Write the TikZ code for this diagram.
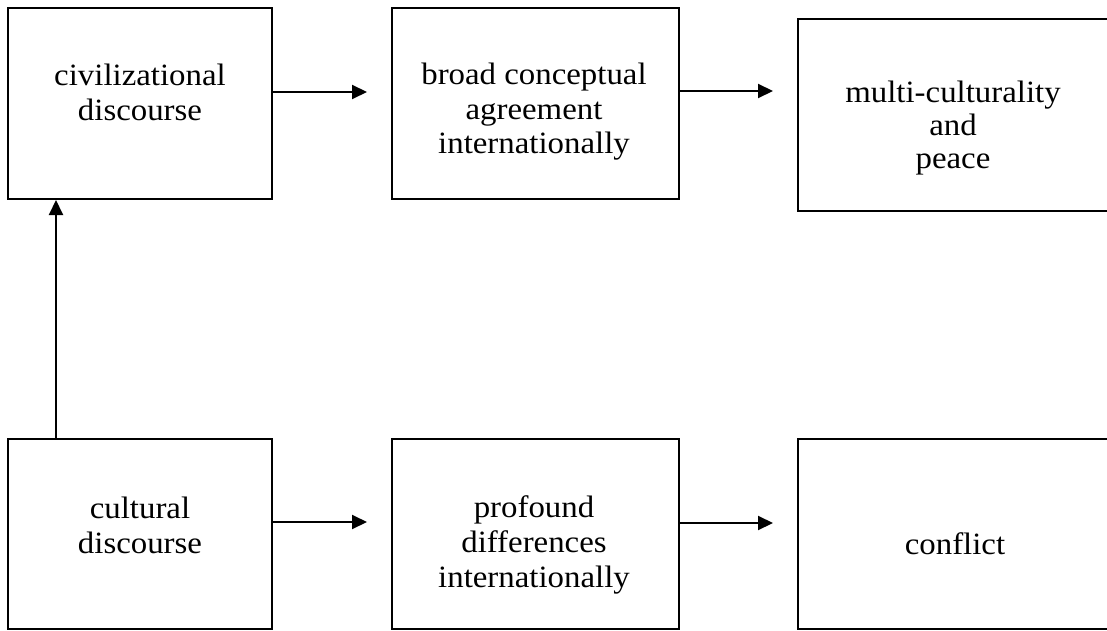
\documentclass[tikz,border=0pt]{standalone}
\usepackage{fontspec}
\setmainfont{Liberation Serif}[FakeStretch=1.06]
\usetikzlibrary{arrows.meta}
\begin{document}
\begin{tikzpicture}[x=1pt,y=-1pt,
  box/.style={draw=black,line width=2pt,rectangle,inner sep=0pt},
  label/.style={align=center,anchor=base,inner sep=0pt,
    font=\fontsize{31}{35}\selectfont},
  arr/.style={line width=2pt,-{Triangle[length=15pt,width=14pt]}}]
  \useasboundingbox (0,0) rectangle (1107,631);
  \clip (0,0) rectangle (1107,631);
  \fill[white] (0,0) rectangle (1107,631);

  % boxes
  \node[box,minimum width=264pt,minimum height=191pt] (A) at (140,103.5) {};
  \node[box,minimum width=287pt,minimum height=191pt] (B) at (535.5,103.5) {};
  \node[box,minimum width=320pt,minimum height=192pt] (C) at (958,115) {};
  \node[box,minimum width=264pt,minimum height=190pt] (D) at (140,534) {};
  \node[box,minimum width=287pt,minimum height=190pt] (E) at (535.5,534) {};
  \node[box,minimum width=320pt,minimum height=190pt] (F) at (958,534) {};

  % texts
  \node[label] (tA) at (140,121) {civilizational\\discourse};
  \node[label] (tB) at (534,154) {broad conceptual\\agreement\\internationally};
  \node[label,font=\fontsize{31}{33}\selectfont] (tC) at (953,168) {multi-culturality\\and\\peace};
  \node[label] (tD) at (140,553) {cultural\\discourse};
  \node[label] (tE) at (534,587) {profound\\differences\\internationally};
  \node[label] (tF) at (955,554) {conflict};

  % free ends of the horizontal connectors
  \coordinate (eA) at (367,92);
  \coordinate (eB) at (773,91);
  \coordinate (eD) at (367,522);
  \coordinate (eE) at (773,523);
  \coordinate (V) at (56,0);

  % connectors
  \draw[arr] (A.east |- eA) -- (eA);
  \draw[arr] (B.east |- eB) -- (eB);
  \draw[arr] (D.east |- eD) -- (eD);
  \draw[arr] (E.east |- eE) -- (eE);
  \draw[arr] (D.north -| V) -- (A.south -| V);
\end{tikzpicture}
\end{document}
